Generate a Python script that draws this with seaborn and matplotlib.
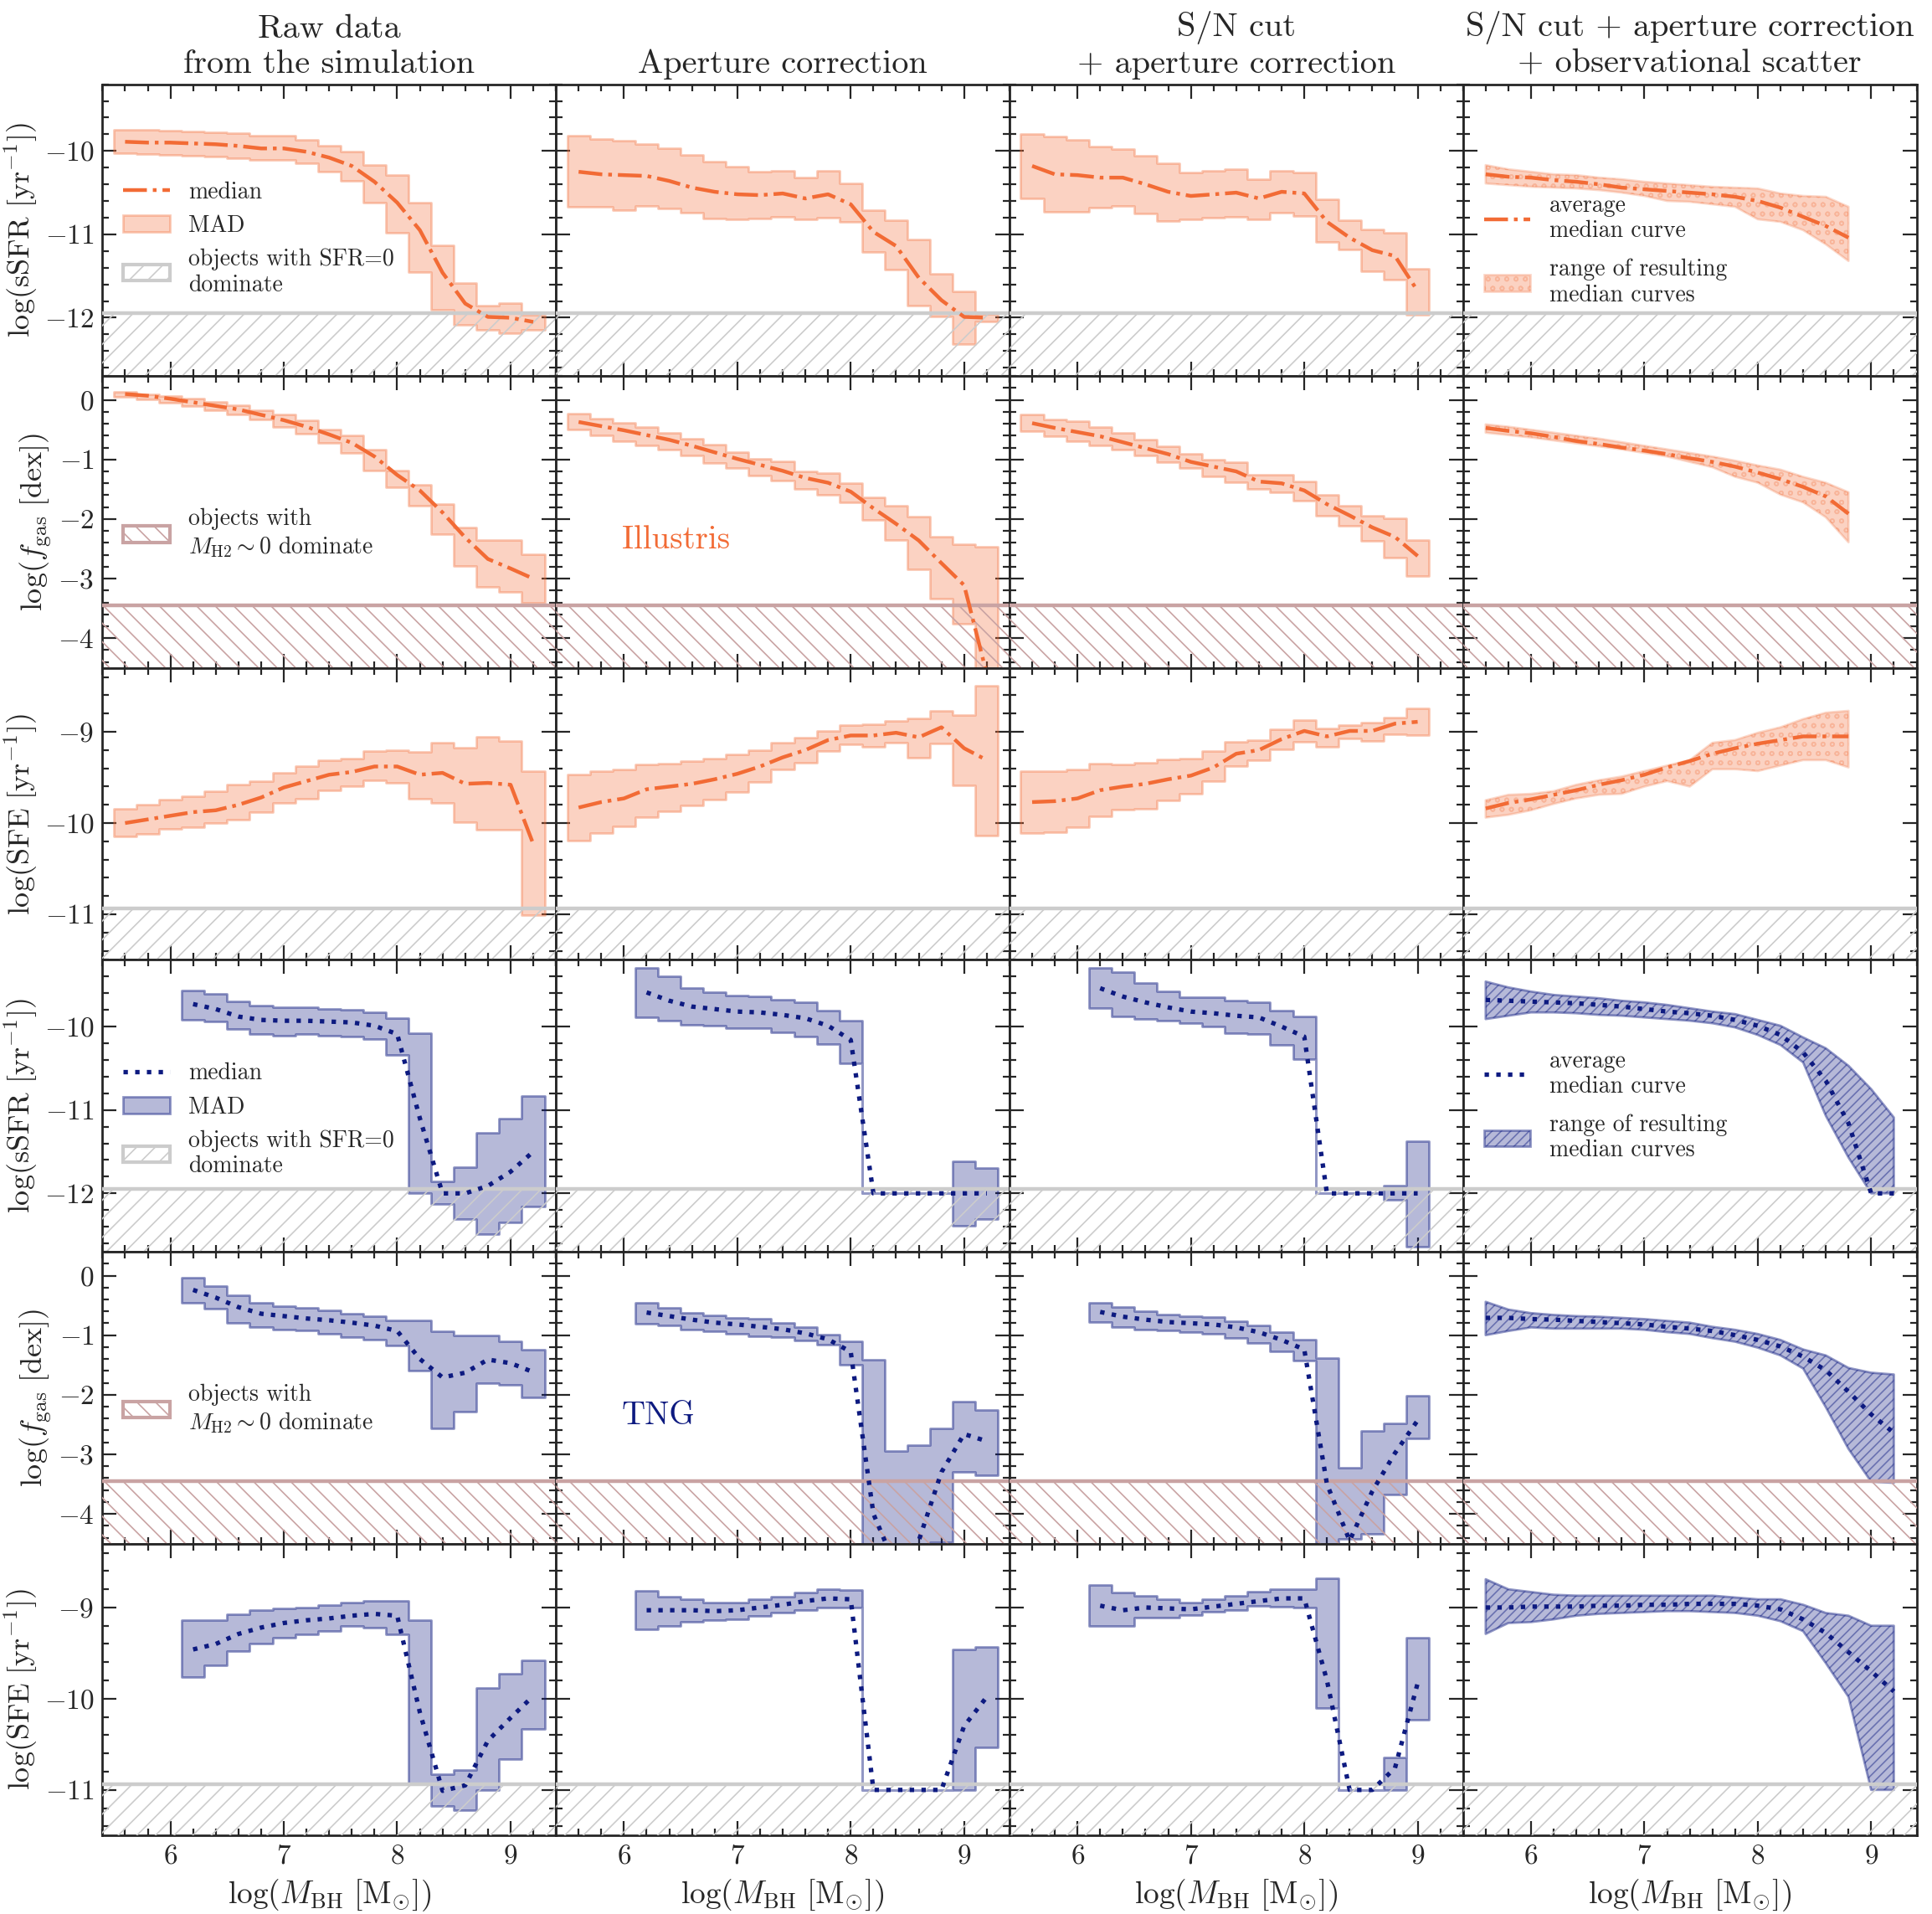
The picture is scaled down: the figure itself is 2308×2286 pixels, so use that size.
import numpy as np
import seaborn as sns
import matplotlib.pyplot as plt
from matplotlib.ticker import MultipleLocator
from matplotlib.patches import Patch
from matplotlib.lines import Line2D

# bin centres, log(M_BH)
mbh_ill = [5.6, 5.8, 6.0, 6.2, 6.4, 6.6, 6.8, 7.0, 7.2, 7.4, 7.6, 7.8, 8.0, 8.2, 8.4, 8.6, 8.8, 9.0, 9.2]
mbh_ill_sn = [5.6, 5.8, 6.0, 6.2, 6.4, 6.6, 6.8, 7.0, 7.2, 7.4, 7.6, 7.8, 8.0, 8.2, 8.4, 8.6, 8.8, 9.0]
mbh_ill_scat = [5.6, 5.8, 6.0, 6.2, 6.4, 6.6, 6.8, 7.0, 7.2, 7.4, 7.6, 7.8, 8.0, 8.2, 8.4, 8.6, 8.8]
mbh_tng = [6.2, 6.4, 6.6, 6.8, 7.0, 7.2, 7.4, 7.6, 7.8, 8.0, 8.2, 8.4, 8.6, 8.8, 9.0, 9.2]
mbh_tng_sn = [6.2, 6.4, 6.6, 6.8, 7.0, 7.2, 7.4, 7.6, 7.8, 8.0, 8.2, 8.4, 8.6, 8.8, 9.0]
mbh_tng_scat = [5.6, 5.8, 6.0, 6.2, 6.4, 6.6, 6.8, 7.0, 7.2, 7.4, 7.6, 7.8, 8.0, 8.2, 8.4, 8.6, 8.8, 9.0, 9.2]

# ---- Illustris, sSFR
ill_ssfr_raw_med = [-9.89, -9.90, -9.90, -9.91, -9.92, -9.94, -9.97, -9.97, -10.01, -10.08, -10.18, -10.37, -10.62, -10.95, -11.46, -11.83, -11.99, -12.00, -12.05]
ill_ssfr_raw_lo = [-10.03, -10.04, -10.05, -10.06, -10.07, -10.09, -10.11, -10.11, -10.15, -10.25, -10.36, -10.62, -10.98, -11.45, -11.90, -12.09, -12.15, -12.19, -12.15]
ill_ssfr_raw_hi = [-9.75, -9.75, -9.76, -9.77, -9.78, -9.79, -9.82, -9.82, -9.87, -9.94, -10.01, -10.17, -10.29, -10.62, -11.13, -11.58, -11.85, -11.82, -11.97]
ill_ssfr_ap_med = [-10.25, -10.28, -10.29, -10.30, -10.36, -10.44, -10.49, -10.52, -10.53, -10.51, -10.57, -10.52, -10.64, -10.97, -11.14, -11.52, -11.79, -11.99, -12.00]
ill_ssfr_ap_lo = [-10.67, -10.67, -10.71, -10.66, -10.69, -10.74, -10.81, -10.82, -10.81, -10.79, -10.82, -10.80, -10.85, -11.21, -11.42, -11.85, -11.99, -12.32, -12.05]
ill_ssfr_ap_hi = [-9.82, -9.86, -9.88, -9.92, -9.97, -10.05, -10.13, -10.19, -10.25, -10.24, -10.32, -10.24, -10.39, -10.71, -10.83, -11.06, -11.47, -11.68, -11.96]
ill_ssfr_sn_med = [-10.18, -10.28, -10.29, -10.32, -10.32, -10.40, -10.49, -10.54, -10.52, -10.50, -10.57, -10.49, -10.51, -10.85, -11.04, -11.19, -11.26, -11.68]
ill_ssfr_sn_lo = [-10.57, -10.73, -10.73, -10.68, -10.66, -10.75, -10.84, -10.82, -10.80, -10.79, -10.82, -10.74, -10.78, -11.09, -11.18, -11.44, -11.54, -11.97]
ill_ssfr_sn_hi = [-9.80, -9.83, -9.87, -9.95, -9.98, -10.06, -10.15, -10.26, -10.24, -10.22, -10.34, -10.24, -10.26, -10.58, -10.83, -10.94, -10.98, -11.41]
ill_ssfr_sc_med = [-10.28, -10.31, -10.32, -10.35, -10.37, -10.40, -10.44, -10.46, -10.48, -10.50, -10.52, -10.55, -10.60, -10.68, -10.79, -10.90, -11.04]
ill_ssfr_sc_hi = [-10.17, -10.22, -10.25, -10.28, -10.29, -10.32, -10.34, -10.37, -10.39, -10.41, -10.43, -10.44, -10.45, -10.51, -10.54, -10.55, -10.67]
ill_ssfr_sc_lo = [-10.39, -10.41, -10.43, -10.44, -10.45, -10.47, -10.50, -10.54, -10.60, -10.61, -10.64, -10.67, -10.82, -10.85, -10.95, -11.12, -11.32]

# ---- Illustris, f_gas
ill_fgas_raw_med = [0.10, 0.07, 0.02, -0.04, -0.10, -0.16, -0.25, -0.34, -0.45, -0.58, -0.72, -0.95, -1.26, -1.52, -1.89, -2.31, -2.67, -2.83, -3.00]
ill_fgas_raw_lo = [0.05, 0.01, -0.05, -0.11, -0.17, -0.24, -0.33, -0.45, -0.57, -0.72, -0.89, -1.18, -1.46, -1.77, -2.25, -2.79, -3.14, -3.23, -3.40]
ill_fgas_raw_hi = [0.14, 0.09, 0.07, 0.02, -0.03, -0.09, -0.18, -0.24, -0.34, -0.49, -0.60, -0.83, -1.18, -1.43, -1.75, -2.14, -2.35, -2.35, -2.59]
ill_fgas_ap_med = [-0.37, -0.44, -0.51, -0.59, -0.67, -0.77, -0.88, -0.99, -1.09, -1.19, -1.31, -1.39, -1.54, -1.82, -2.08, -2.36, -2.74, -3.11, -4.60]
ill_fgas_ap_lo = [-0.50, -0.60, -0.69, -0.77, -0.83, -0.93, -1.06, -1.15, -1.27, -1.35, -1.50, -1.60, -1.72, -2.01, -2.35, -2.85, -3.33, -3.76, -5.00]
ill_fgas_ap_hi = [-0.23, -0.31, -0.38, -0.46, -0.55, -0.65, -0.75, -0.88, -0.99, -1.03, -1.20, -1.23, -1.40, -1.63, -1.78, -1.96, -2.29, -2.42, -2.46]
ill_fgas_sn_med = [-0.39, -0.47, -0.54, -0.61, -0.71, -0.81, -0.91, -1.04, -1.12, -1.20, -1.37, -1.40, -1.52, -1.75, -1.94, -2.14, -2.30, -2.62]
ill_fgas_sn_lo = [-0.52, -0.61, -0.70, -0.76, -0.83, -0.93, -1.05, -1.15, -1.28, -1.38, -1.50, -1.55, -1.69, -1.94, -2.11, -2.36, -2.65, -2.95]
ill_fgas_sn_hi = [-0.25, -0.33, -0.36, -0.45, -0.55, -0.66, -0.78, -0.91, -1.00, -1.04, -1.25, -1.25, -1.37, -1.60, -1.78, -1.95, -1.98, -2.35]
ill_fgas_sc_med = [-0.47, -0.52, -0.56, -0.62, -0.69, -0.74, -0.80, -0.85, -0.91, -0.98, -1.04, -1.12, -1.22, -1.33, -1.46, -1.62, -1.91]
ill_fgas_sc_hi = [-0.41, -0.45, -0.50, -0.55, -0.60, -0.65, -0.71, -0.77, -0.83, -0.89, -0.95, -1.02, -1.10, -1.17, -1.29, -1.39, -1.55]
ill_fgas_sc_lo = [-0.55, -0.59, -0.63, -0.68, -0.73, -0.78, -0.83, -0.89, -0.95, -1.04, -1.13, -1.29, -1.39, -1.59, -1.72, -1.97, -2.39]

# ---- Illustris, SFE
ill_sfe_raw_med = [-10.00, -9.96, -9.92, -9.88, -9.86, -9.80, -9.72, -9.61, -9.54, -9.47, -9.44, -9.38, -9.38, -9.47, -9.45, -9.57, -9.56, -9.58, -10.23]
ill_sfe_raw_lo = [-10.15, -10.12, -10.06, -10.05, -10.00, -9.96, -9.88, -9.78, -9.73, -9.64, -9.60, -9.53, -9.56, -9.73, -9.78, -9.99, -10.07, -10.07, -11.01]
ill_sfe_raw_hi = [-9.84, -9.80, -9.74, -9.71, -9.65, -9.58, -9.54, -9.45, -9.38, -9.31, -9.29, -9.21, -9.20, -9.22, -9.12, -9.17, -9.05, -9.10, -9.43]
ill_sfe_ap_med = [-9.83, -9.77, -9.73, -9.63, -9.60, -9.57, -9.52, -9.46, -9.38, -9.28, -9.20, -9.09, -9.04, -9.04, -9.01, -9.06, -8.95, -9.18, -9.31]
ill_sfe_ap_lo = [-10.19, -10.11, -10.04, -9.94, -9.87, -9.81, -9.74, -9.66, -9.55, -9.41, -9.34, -9.21, -9.14, -9.16, -9.12, -9.28, -9.13, -9.59, -10.14]
ill_sfe_ap_hi = [-9.47, -9.43, -9.41, -9.36, -9.35, -9.32, -9.29, -9.25, -9.20, -9.12, -9.06, -8.99, -8.93, -8.92, -8.88, -8.85, -8.77, -8.82, -8.49]
ill_sfe_sn_med = [-9.77, -9.76, -9.73, -9.64, -9.60, -9.57, -9.52, -9.48, -9.39, -9.24, -9.20, -9.08, -8.99, -9.05, -8.99, -8.99, -8.91, -8.89]
ill_sfe_sn_lo = [-10.11, -10.10, -10.05, -9.93, -9.85, -9.84, -9.75, -9.68, -9.54, -9.38, -9.31, -9.19, -9.11, -9.16, -9.07, -9.10, -9.03, -9.04]
ill_sfe_sn_hi = [-9.43, -9.43, -9.41, -9.35, -9.36, -9.34, -9.30, -9.29, -9.21, -9.11, -9.09, -8.97, -8.87, -8.96, -8.93, -8.90, -8.84, -8.74]
ill_sfe_sc_med = [-9.84, -9.78, -9.74, -9.69, -9.64, -9.58, -9.53, -9.47, -9.39, -9.32, -9.24, -9.18, -9.13, -9.09, -9.05, -9.05, -9.05]
ill_sfe_sc_hi = [-9.75, -9.69, -9.68, -9.65, -9.58, -9.53, -9.49, -9.43, -9.37, -9.31, -9.12, -9.09, -9.01, -8.95, -8.86, -8.79, -8.77]
ill_sfe_sc_lo = [-9.94, -9.91, -9.86, -9.79, -9.73, -9.69, -9.68, -9.60, -9.54, -9.60, -9.41, -9.41, -9.43, -9.37, -9.31, -9.31, -9.39]

# ---- TNG, sSFR
tng_ssfr_raw_med = [-9.73, -9.79, -9.88, -9.92, -9.93, -9.93, -9.94, -9.95, -9.99, -10.09, -11.10, -12.00, -12.00, -11.91, -11.74, -11.50]
tng_ssfr_raw_lo = [-9.92, -9.94, -10.03, -10.09, -10.11, -10.09, -10.11, -10.12, -10.15, -10.34, -12.00, -12.13, -12.31, -12.49, -12.35, -12.16]
tng_ssfr_raw_hi = [-9.57, -9.61, -9.70, -9.75, -9.77, -9.77, -9.79, -9.80, -9.83, -9.90, -10.08, -11.86, -11.69, -11.27, -11.10, -10.83]
tng_ssfr_ap_med = [-9.59, -9.69, -9.76, -9.79, -9.82, -9.83, -9.86, -9.90, -9.99, -10.16, -12.00, -12.00, -12.00, -12.00, -12.00, -12.00]
tng_ssfr_ap_lo = [-9.89, -9.93, -9.98, -9.99, -10.02, -10.02, -10.07, -10.12, -10.21, -10.44, -12.00, -12.00, -12.00, -12.00, -12.39, -12.31]
tng_ssfr_ap_hi = [-9.30, -9.40, -9.54, -9.59, -9.63, -9.64, -9.68, -9.71, -9.81, -9.93, -12.00, -12.00, -12.00, -12.00, -11.62, -11.70]
tng_ssfr_sn_med = [-9.54, -9.64, -9.71, -9.77, -9.82, -9.84, -9.87, -9.89, -10.00, -10.12, -12.00, -12.00, -12.00, -12.00, -12.00]
tng_ssfr_sn_lo = [-9.78, -9.88, -9.91, -9.93, -9.96, -10.00, -10.08, -10.09, -10.22, -10.39, -12.00, -12.00, -12.00, -12.08, -12.64]
tng_ssfr_sn_hi = [-9.30, -9.35, -9.48, -9.58, -9.65, -9.65, -9.69, -9.71, -9.81, -9.88, -12.00, -12.00, -12.00, -11.91, -11.37]
tng_ssfr_sc_med = [-9.68, -9.69, -9.70, -9.71, -9.72, -9.74, -9.76, -9.79, -9.82, -9.84, -9.87, -9.92, -9.99, -10.10, -10.31, -10.65, -11.16, -12.00, -12.00]
tng_ssfr_sc_hi = [-9.46, -9.53, -9.58, -9.62, -9.64, -9.66, -9.69, -9.71, -9.74, -9.78, -9.82, -9.85, -9.92, -9.99, -10.13, -10.26, -10.47, -10.75, -11.09]
tng_ssfr_sc_lo = [-9.91, -9.87, -9.83, -9.83, -9.84, -9.86, -9.87, -9.89, -9.91, -9.93, -9.96, -10.01, -10.10, -10.22, -10.43, -11.07, -11.57, -12.00, -12.00]

# ---- TNG, f_gas
tng_fgas_raw_med = [-0.24, -0.37, -0.53, -0.64, -0.68, -0.72, -0.75, -0.79, -0.84, -0.93, -1.40, -1.71, -1.63, -1.41, -1.47, -1.62]
tng_fgas_raw_lo = [-0.45, -0.56, -0.79, -0.87, -0.90, -0.92, -0.97, -1.03, -1.08, -1.17, -1.59, -2.56, -2.28, -1.81, -1.84, -2.04]
tng_fgas_raw_hi = [-0.04, -0.18, -0.33, -0.45, -0.51, -0.54, -0.59, -0.64, -0.68, -0.75, -0.75, -0.93, -1.00, -1.01, -1.11, -1.24]
tng_fgas_ap_med = [-0.62, -0.68, -0.74, -0.79, -0.82, -0.86, -0.90, -0.97, -1.07, -1.28, -4.00, -4.90, -4.45, -3.30, -2.66, -2.78]
tng_fgas_ap_lo = [-0.81, -0.84, -0.91, -0.94, -0.97, -1.02, -1.03, -1.09, -1.16, -1.49, -5.00, -5.00, -5.00, -4.47, -3.30, -3.35]
tng_fgas_ap_hi = [-0.45, -0.54, -0.63, -0.67, -0.71, -0.72, -0.80, -0.86, -0.99, -1.10, -1.41, -2.95, -2.85, -2.57, -2.12, -2.25]
tng_fgas_sn_med = [-0.61, -0.69, -0.74, -0.78, -0.80, -0.82, -0.87, -0.95, -1.08, -1.24, -3.50, -4.45, -3.62, -2.98, -2.43]
tng_fgas_sn_lo = [-0.78, -0.87, -0.90, -0.92, -0.95, -0.98, -1.05, -1.13, -1.27, -1.42, -5.00, -4.42, -4.33, -3.68, -2.73]
tng_fgas_sn_hi = [-0.45, -0.53, -0.60, -0.65, -0.68, -0.69, -0.76, -0.84, -0.95, -1.08, -1.39, -3.23, -2.61, -2.48, -2.01]
tng_fgas_sc_med = [-0.71, -0.71, -0.73, -0.74, -0.76, -0.78, -0.80, -0.82, -0.86, -0.89, -0.93, -1.00, -1.08, -1.19, -1.36, -1.59, -1.95, -2.33, -2.64]
tng_fgas_sc_hi = [-0.44, -0.57, -0.63, -0.66, -0.68, -0.69, -0.71, -0.73, -0.76, -0.79, -0.86, -0.91, -0.98, -1.08, -1.24, -1.34, -1.55, -1.63, -1.66]
tng_fgas_sc_lo = [-1.00, -0.93, -0.87, -0.89, -0.89, -0.89, -0.89, -0.91, -0.95, -0.98, -1.05, -1.11, -1.21, -1.34, -1.56, -2.21, -2.91, -3.46, -3.48]

# ---- TNG, SFE
tng_sfe_raw_med = [-9.46, -9.40, -9.29, -9.22, -9.17, -9.14, -9.12, -9.09, -9.07, -9.09, -10.15, -11.01, -10.95, -10.46, -10.21, -9.97]
tng_sfe_raw_lo = [-9.76, -9.63, -9.48, -9.40, -9.33, -9.29, -9.26, -9.20, -9.22, -9.29, -10.94, -11.18, -11.22, -11.00, -10.66, -10.33]
tng_sfe_raw_hi = [-9.14, -9.14, -9.07, -9.03, -9.01, -9.00, -8.97, -8.95, -8.93, -8.93, -9.14, -10.83, -10.78, -9.88, -9.73, -9.58]
tng_sfe_ap_med = [-9.03, -9.03, -9.03, -9.04, -9.03, -9.00, -8.97, -8.93, -8.90, -8.91, -11.00, -11.00, -11.00, -11.00, -10.30, -9.98]
tng_sfe_ap_lo = [-9.24, -9.20, -9.16, -9.14, -9.13, -9.09, -9.06, -9.03, -9.00, -9.00, -11.00, -11.00, -11.00, -11.00, -11.00, -10.53]
tng_sfe_ap_hi = [-8.82, -8.88, -8.91, -8.95, -8.95, -8.91, -8.88, -8.84, -8.80, -8.81, -11.00, -11.00, -11.00, -11.00, -9.46, -9.43]
tng_sfe_sn_med = [-8.98, -9.03, -9.00, -9.01, -9.02, -8.99, -8.96, -8.93, -8.90, -8.90, -9.80, -11.00, -11.00, -10.76, -9.83]
tng_sfe_sn_lo = [-9.20, -9.20, -9.11, -9.11, -9.08, -9.05, -9.03, -8.98, -8.99, -9.00, -10.10, -11.00, -11.00, -11.00, -10.23]
tng_sfe_sn_hi = [-8.75, -8.84, -8.87, -8.91, -8.95, -8.91, -8.87, -8.83, -8.80, -8.80, -8.68, -11.00, -11.00, -10.64, -9.33]
tng_sfe_sc_med = [-9.00, -9.00, -8.99, -8.99, -8.99, -8.98, -8.98, -8.97, -8.97, -8.96, -8.96, -8.96, -8.98, -9.02, -9.13, -9.28, -9.49, -9.70, -9.92]
tng_sfe_sc_hi = [-8.69, -8.80, -8.83, -8.86, -8.87, -8.87, -8.87, -8.87, -8.87, -8.87, -8.87, -8.89, -8.91, -8.91, -8.97, -9.06, -9.09, -9.20, -9.20]
tng_sfe_sc_lo = [-9.29, -9.17, -9.16, -9.13, -9.09, -9.07, -9.06, -9.05, -9.04, -9.04, -9.05, -9.06, -9.09, -9.15, -9.26, -9.61, -9.98, -11.00, -11.00]

col_titles = ['Raw data\nfrom the simulation', 'Aperture correction',
              'S/N cut\n+ aperture correction',
              'S/N cut + aperture correction\n+ observational scatter']
row_labels = [r'$\log(\mathrm{sSFR\ [yr^{-1}]})$', r'$\log(f_{\rm gas}\ [\mathrm{dex}])$',
              r'$\log(\mathrm{SFE\ [yr^{-1}]})$'] * 2
row_lims = [(-12.7, -9.2), (-4.5, 0.4), (-11.5, -8.3)] * 2
zero_lines = [-11.95, -3.45, -10.94] * 2

ORANGE = '#f26b35'
NAVY = '#0d1a80'
GREY = '#cccccc'
BROWN = '#c9a3a3'

sns.set_style('ticks')
plt.rcParams['font.family'] = ['cmr10', 'DejaVu Serif']
plt.rcParams['mathtext.fontset'] = 'cm'
plt.rcParams['axes.formatter.use_mathtext'] = True
plt.rcParams['hatch.linewidth'] = 0.6
plt.rcParams['axes.unicode_minus'] = True


def alpha(c, a):
    return plt.matplotlib.colors.to_rgba(c, a)


sims = {
    'ill': dict(line=ORANGE, ls='-.', lw=1.6, hatch='ooo', hedge=0.25),
    'tng': dict(line=NAVY, ls=':', lw=1.9, hatch='//////', hedge=0.45),
}

panels = [
    ('ill', [(mbh_ill, ill_ssfr_raw_med, ill_ssfr_raw_lo, ill_ssfr_raw_hi),
             (mbh_ill, ill_ssfr_ap_med, ill_ssfr_ap_lo, ill_ssfr_ap_hi),
             (mbh_ill_sn, ill_ssfr_sn_med, ill_ssfr_sn_lo, ill_ssfr_sn_hi),
             (mbh_ill_scat, ill_ssfr_sc_med, ill_ssfr_sc_lo, ill_ssfr_sc_hi)]),
    ('ill', [(mbh_ill, ill_fgas_raw_med, ill_fgas_raw_lo, ill_fgas_raw_hi),
             (mbh_ill, ill_fgas_ap_med, ill_fgas_ap_lo, ill_fgas_ap_hi),
             (mbh_ill_sn, ill_fgas_sn_med, ill_fgas_sn_lo, ill_fgas_sn_hi),
             (mbh_ill_scat, ill_fgas_sc_med, ill_fgas_sc_lo, ill_fgas_sc_hi)]),
    ('ill', [(mbh_ill, ill_sfe_raw_med, ill_sfe_raw_lo, ill_sfe_raw_hi),
             (mbh_ill, ill_sfe_ap_med, ill_sfe_ap_lo, ill_sfe_ap_hi),
             (mbh_ill_sn, ill_sfe_sn_med, ill_sfe_sn_lo, ill_sfe_sn_hi),
             (mbh_ill_scat, ill_sfe_sc_med, ill_sfe_sc_lo, ill_sfe_sc_hi)]),
    ('tng', [(mbh_tng, tng_ssfr_raw_med, tng_ssfr_raw_lo, tng_ssfr_raw_hi),
             (mbh_tng, tng_ssfr_ap_med, tng_ssfr_ap_lo, tng_ssfr_ap_hi),
             (mbh_tng_sn, tng_ssfr_sn_med, tng_ssfr_sn_lo, tng_ssfr_sn_hi),
             (mbh_tng_scat, tng_ssfr_sc_med, tng_ssfr_sc_lo, tng_ssfr_sc_hi)]),
    ('tng', [(mbh_tng, tng_fgas_raw_med, tng_fgas_raw_lo, tng_fgas_raw_hi),
             (mbh_tng, tng_fgas_ap_med, tng_fgas_ap_lo, tng_fgas_ap_hi),
             (mbh_tng_sn, tng_fgas_sn_med, tng_fgas_sn_lo, tng_fgas_sn_hi),
             (mbh_tng_scat, tng_fgas_sc_med, tng_fgas_sc_lo, tng_fgas_sc_hi)]),
    ('tng', [(mbh_tng, tng_sfe_raw_med, tng_sfe_raw_lo, tng_sfe_raw_hi),
             (mbh_tng, tng_sfe_ap_med, tng_sfe_ap_lo, tng_sfe_ap_hi),
             (mbh_tng_sn, tng_sfe_sn_med, tng_sfe_sn_lo, tng_sfe_sn_hi),
             (mbh_tng_scat, tng_sfe_sc_med, tng_sfe_sc_lo, tng_sfe_sc_hi)]),
]

fig, axes = plt.subplots(6, 4, figsize=(11.54, 11.43), dpi=200, sharex=True, sharey='row')
fig.subplots_adjust(left=0.053, right=0.992, top=0.956, bottom=0.041, wspace=0, hspace=0)

for r, (sim, cols) in enumerate(panels):
    st = sims[sim]
    fc = alpha(st['line'], 0.3)
    ec = alpha(st['line'], 0.35 if sim == 'ill' else 0.45)
    lo_lim, hi_lim = row_lims[r]
    for c, (x, med, lo, hi) in enumerate(cols):
        ax = axes[r, c]
        x = np.asarray(x)
        if c < 3:
            # binned MAD as steps
            edges = np.r_[x - 0.1, x[-1] + 0.1]
            ax.fill_between(edges, np.r_[lo, lo[-1]], np.r_[hi, hi[-1]], step='post',
                            facecolor=fc, edgecolor=ec, lw=1.0, zorder=2)
        else:
            ax.fill_between(x, lo, hi, facecolor=fc, edgecolor=alpha(st['line'], st['hedge']),
                            lw=1.0, hatch=st['hatch'], zorder=2)
        sns.lineplot(x=x, y=med, ax=ax, color=st['line'], linestyle=st['ls'],
                     lw=st['lw'], sort=False, estimator=None, zorder=5)

        # regions where zero values dominate
        hcol = BROWN if r % 3 == 1 else GREY
        hpat = '\\\\\\' if r % 3 == 1 else '///'
        ax.axhspan(lo_lim - 1, zero_lines[r], facecolor='none', edgecolor=hcol,
                   hatch=hpat, lw=0, zorder=3)
        ax.axhline(zero_lines[r], color=hcol, lw=1.6, zorder=3)

        ax.set_xlim(5.4, 9.4)
        ax.set_ylim(lo_lim, hi_lim)
        ax.xaxis.set_major_locator(MultipleLocator(1))
        ax.xaxis.set_minor_locator(MultipleLocator(0.2))
        ax.yaxis.set_major_locator(MultipleLocator(1))
        ax.yaxis.set_minor_locator(MultipleLocator(0.2))
        ax.tick_params(which='both', direction='in', top=True, right=True,
                       labelsize=12, width=0.8)
        ax.tick_params(which='major', length=6)
        ax.tick_params(which='minor', length=3)
        for sp in ax.spines.values():
            sp.set_linewidth(1.0)
        if r == 0:
            ax.set_title(col_titles[c], fontsize=14.5, pad=5)
        if r == 5:
            ax.set_xlabel(r'$\log(M_{\rm BH}\ [\mathrm{M_{\odot}}])$', fontsize=13.5)
        if c == 0:
            ax.set_ylabel(row_labels[r], fontsize=13, labelpad=2)

# legends
for r, sim in [(0, 'ill'), (3, 'tng')]:
    st = sims[sim]
    fc = alpha(st['line'], 0.3)
    ec = alpha(st['line'], 0.35 if sim == 'ill' else 0.45)
    h = [Line2D([], [], color=st['line'], ls=st['ls'], lw=st['lw']),
         Patch(facecolor=fc, edgecolor=ec, lw=1.0),
         Patch(facecolor='none', edgecolor=GREY, hatch='///', lw=1.5)]
    axes[r, 0].legend(h, ['median', 'MAD', 'objects with SFR=0\ndominate'],
                      loc='upper left', bbox_to_anchor=(0.0, 0.74 if sim == 'ill' else 0.72),
                      frameon=False, fontsize=10, handlelength=2.0, labelspacing=0.5)
    h2 = [Line2D([], [], color=st['line'], ls=st['ls'], lw=st['lw']),
          Patch(facecolor=fc, edgecolor=alpha(st['line'], st['hedge']), hatch=st['hatch'], lw=1.0)]
    axes[r, 3].legend(h2, ['average\nmedian curve', 'range of resulting\nmedian curves'],
                      loc='center left', bbox_to_anchor=(0.0, 0.43 if sim == 'ill' else 0.5),
                      frameon=False, fontsize=10, handlelength=2.0, labelspacing=0.7)

for r in (1, 4):
    h = [Patch(facecolor='none', edgecolor=BROWN, hatch='\\\\\\', lw=1.5)]
    axes[r, 0].legend(h, ['objects with\n$M_{\\rm H2}\\sim0$ dominate'], loc='center left',
                      bbox_to_anchor=(0.0, 0.46), frameon=False, fontsize=10,
                      handlelength=2.0)

axes[1, 1].text(5.98, -2.35, 'Illustris', color=ORANGE, fontsize=14, va='center')
axes[4, 1].text(5.98, -2.35, 'TNG', color=NAVY, fontsize=14, va='center')

fig.savefig('out.png', dpi=200)
